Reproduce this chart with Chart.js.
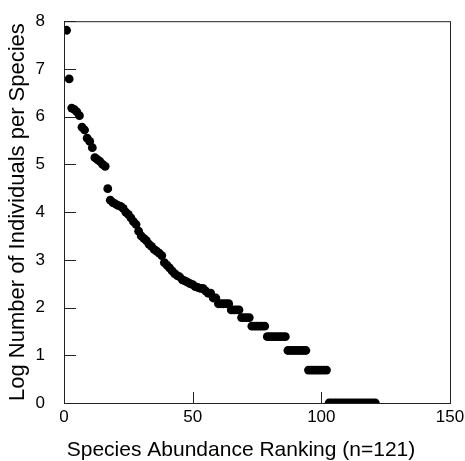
<!DOCTYPE html>
<html>

<head>
    <title>Species Abundance Ranking</title>
    <script src="https://cdn.jsdelivr.net/npm/chart.js"></script>
    <style>
        html, body { margin: 0; padding: 0; background: #fff; }
        #wrap { width: 465px; height: 461px; }
    </style>
</head>

<body>
    <div id="wrap">
        <canvas id="rank-chart" width="465" height="461"></canvas>
    </div>

    <script>
        // log abundance per species, species ordered by rank (1 = most abundant)
        const logAbundance = [
            7.81, 6.79, 6.18, 6.15, 6.10, 6.02, 5.78, 5.72, 5.55, 5.48,
            5.35, 5.14, 5.10, 5.06, 5.00, 4.96, 4.49, 4.25, 4.20, 4.17,
            4.14, 4.12, 4.08, 4.00, 3.95, 3.88, 3.80, 3.74, 3.60, 3.50,
            3.45, 3.40, 3.33, 3.28, 3.22, 3.18, 3.14, 3.09, 2.94, 2.89,
            2.83, 2.77, 2.71, 2.67, 2.64, 2.58, 2.56, 2.53, 2.50, 2.48,
            2.44, 2.42, 2.40, 2.40, 2.35, 2.30, 2.30, 2.20, 2.20, 2.08,
            2.08, 2.08, 2.08, 2.08, 1.95, 1.95, 1.95, 1.95, 1.79, 1.79,
            1.79, 1.79, 1.61, 1.61, 1.61, 1.61, 1.61, 1.61, 1.39, 1.39,
            1.39, 1.39, 1.39, 1.39, 1.39, 1.39, 1.10, 1.10, 1.10, 1.10,
            1.10, 1.10, 1.10, 1.10, 0.69, 0.69, 0.69, 0.69, 0.69, 0.69,
            0.69, 0.69, 0, 0, 0, 0, 0, 0, 0, 0,
            0, 0, 0, 0, 0, 0, 0, 0, 0, 0,
            0
        ];
        const xTicks = [0, 50, 100, 150];
        const yTicks = [0, 1, 2, 3, 4, 5, 6, 7, 8];
        const xTitle = 'Species Abundance Ranking (n=121)';
        const yTitle = 'Log Number of Individuals per Species';

        const points = logAbundance.map((v, i) => ({ x: i + 1, y: v }));
        const FONT = '"Liberation Sans", Arial, sans-serif';

        // box around the plot, inward tick marks, x axis title
        const frame = {
            id: 'frame',
            afterDraw(chart) {
                const { ctx, chartArea: a, scales } = chart;
                ctx.save();
                ctx.strokeStyle = '#222';
                ctx.lineWidth = 1;
                ctx.strokeRect(a.left + 0.5, a.top + 0.5, a.right - a.left, a.bottom - a.top);
                ctx.beginPath();
                xTicks.forEach(t => {
                    const px = Math.round(scales.x.getPixelForValue(t)) + 0.5;
                    ctx.moveTo(px, a.bottom);
                    ctx.lineTo(px, a.bottom - 11);
                });
                yTicks.forEach(t => {
                    const py = Math.round(scales.y.getPixelForValue(t)) + 0.5;
                    ctx.moveTo(a.left, py);
                    ctx.lineTo(a.left + 12, py);
                });
                ctx.stroke();

                // the original title sits a bit left of the plot centre
                ctx.fillStyle = '#000';
                ctx.font = '21px ' + FONT;
                ctx.textAlign = 'center';
                ctx.textBaseline = 'middle';
                ctx.fillText(xTitle, 241, 450);
                ctx.restore();
            }
        };

        new Chart(document.getElementById('rank-chart').getContext('2d'), {
            type: 'scatter',
            data: {
                datasets: [{
                    data: points,
                    backgroundColor: '#000',
                    borderColor: '#000',
                    pointRadius: 4.4,
                    pointBorderWidth: 0
                }]
            },
            options: {
                responsive: false,
                animation: false,
                layout: { padding: { top: 19, right: 15, left: 0, bottom: 0 } },
                plugins: { legend: { display: false }, tooltip: { enabled: false } },
                scales: {
                    x: {
                        type: 'linear',
                        min: 0,
                        max: 150,
                        grid: { display: false },
                        border: { display: false },
                        afterBuildTicks: s => { s.ticks = xTicks.map(v => ({ value: v })); },
                        afterFit: s => { s.height = 58; },
                        ticks: { color: '#000', padding: -4, font: { family: FONT, size: 17 } }
                    },
                    y: {
                        min: 0,
                        max: 8,
                        grid: { display: false },
                        border: { display: false },
                        afterBuildTicks: s => { s.ticks = yTicks.map(v => ({ value: v })); },
                        afterFit: s => { s.width = 64; },
                        ticks: { color: '#000', padding: 11, font: { family: FONT, size: 17 } },
                        title: {
                            display: true,
                            text: yTitle,
                            color: '#000',
                            padding: { top: 5, bottom: 0 },
                            font: { family: FONT, size: 22 }
                        }
                    }
                }
            },
            plugins: [frame]
        });
    </script>
</body>

</html>
